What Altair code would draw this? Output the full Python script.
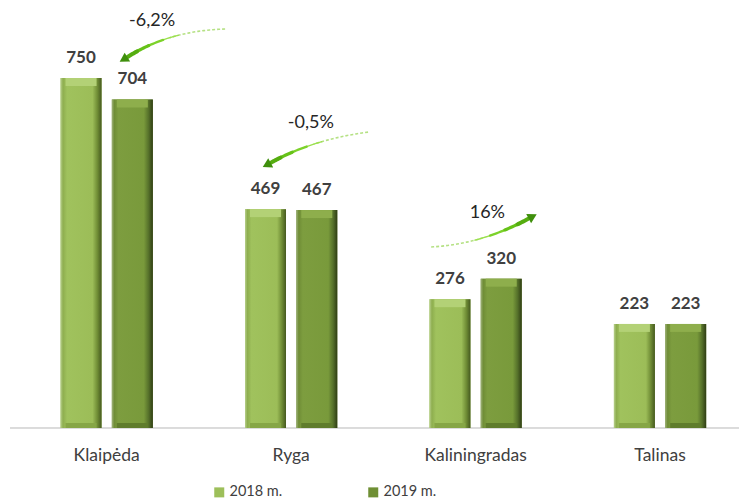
import math
import altair as alt
import pandas as pd

# ---- data ----
categories = ["Klaipėda", "Ryga", "Kaliningradas", "Talinas"]
v2018 = [750, 469, 276, 223]
v2019 = [704, 467, 320, 223]
series = ["2018 m.", "2019 m."]

# change annotations (label, label position, arrow tail / control / head), in data units
ann_labels = ["-6,2%", "-0,5%", "16%"]
ann_text_x = [0.246, 1.107, 2.064]
ann_text_y = [872, 654, 461]
arrow_p0 = [(0.642, 855), (1.417, 634), (1.759, 388)]
arrow_p1 = [(0.305, 851), (1.086, 617), (2.059, 394)]
arrow_p2 = [(0.064, 782), (0.840, 557), (2.342, 461)]

# ---- layout constants ----
W, H = 731, 420
XD = (-0.508, 3.401)
YD = (0, 900)
PX_X = W / (XD[1] - XD[0])
PX_Y = H / (YD[1] - YD[0])
OFF = 0.139
FONT = "Lato"

rows = []
for i, c in enumerate(categories):
    for s, vals, off in ((series[0], v2018, -OFF), (series[1], v2019, OFF)):
        rows.append({"idx": i, "cat": c, "series": s, "value": vals[i], "zero": 0,
                     "xpos": i + off, "label": str(vals[i])})
bars = pd.DataFrame(rows)
cats = pd.DataFrame({"idx": list(range(len(categories))), "cat": categories,
                     "zero": [0] * len(categories)})

xs = alt.Scale(domain=list(XD), nice=False, zero=False)
ys = alt.Scale(domain=list(YD), nice=False)
X = alt.X("xpos:Q", scale=xs, axis=None)
Y = alt.Y("value:Q", scale=ys, axis=None)

base_bar = alt.Chart(bars).mark_bar(size=41).encode(
    x=X, y=Y,
    color=alt.Color("series:N", scale=alt.Scale(domain=series, range=["#9dbf5a", "#6f8f34"]),
                    legend=alt.Legend(title=None, orient="none", legendX=204, legendY=477,
                                      direction="horizontal", symbolType="square",
                                      symbolSize=100, labelFontSize=14.5, labelFont=FONT,
                                      labelColor="#404040", columnPadding=83,
                                      labelOffset=3)),
)

grad = {
    series[0]: [("#b7cf8c", 0), ("#8eae4f", 0.06), ("#a0c25d", 0.16), ("#9cbd58", 0.78),
                ("#6f8c35", 0.9), ("#45591f", 1)],
    series[1]: [("#9fb27a", 0), ("#6f8d36", 0.06), ("#7d9d3f", 0.16), ("#799a3b", 0.78),
                ("#55702a", 0.9), ("#2f3d14", 1)],
}
top_col = {series[0]: "#b3d176", series[1]: "#8eae4c"}
bot_col = {series[0]: "#86a646", series[1]: "#5f7c2c"}

# baseline (axis line)
layers = [alt.Chart(cats).mark_rule(color="#d9d9d9", strokeWidth=1).encode(
    x=alt.value(2), x2=alt.value(W), y=alt.Y("zero:Q", scale=ys, axis=None))]

layers.append(base_bar)
for s in series:
    g = {"gradient": "linear", "x1": 0, "x2": 1, "y1": 0, "y2": 0,
         "stops": [{"offset": o, "color": c} for c, o in grad[s]]}
    sub = alt.Chart(bars).transform_filter(alt.datum.series == s)
    layers.append(sub.mark_bar(size=41, color=g).encode(x=X, y=Y))
    layers.append(sub.mark_bar(size=31, color=top_col[s], y2Offset=8).encode(
        x=X, y=Y, y2=alt.Y2("value:Q")))
    layers.append(sub.mark_bar(size=31, color=bot_col[s], y2Offset=-5).encode(
        x=X, y=alt.Y("zero:Q", scale=ys, axis=None), y2=alt.Y2("zero:Q")))

layers.append(alt.Chart(bars).mark_text(dy=-15, baseline="alphabetic", fontWeight="bold",
                                        fontSize=17, font=FONT, color="#404040").encode(
    x=X, y=Y, text="label:N"))

layers.append(alt.Chart(cats).mark_text(baseline="alphabetic", fontSize=17.5, font=FONT,
                                        color="#404040").encode(
    x=alt.X("idx:Q", scale=xs, axis=None), y=alt.value(453), text="cat:N"))

# arrows
dash_rows, solid_rows, head_rows = [], [], []
for k in range(len(ann_labels)):
    p0, p1, p2 = arrow_p0[k], arrow_p1[k], arrow_p2[k]
    def bez(t):
        return ((1 - t) ** 2 * p0[0] + 2 * (1 - t) * t * p1[0] + t * t * p2[0],
                (1 - t) ** 2 * p0[1] + 2 * (1 - t) * t * p1[1] + t * t * p2[1])
    n = 40
    for j in range(n + 1):
        t = j / n
        x, y = bez(t)
        if t <= 0.48:
            dash_rows.append({"a": k, "o": j, "xpos": x, "value": y})
    segs = [(0.40, 0.56, 1.4, "#9be04e"), (0.54, 0.70, 2.3, "#7cd22a"),
            (0.68, 0.82, 3.2, "#66c218"), (0.80, 0.9, 4.0, "#55ad10")]
    for si, (ta, tb, w, c) in enumerate(segs):
        m = 8
        for j in range(m + 1):
            t = ta + (tb - ta) * j / m
            x, y = bez(t)
            solid_rows.append({"seg": f"{k}-{si}", "o": j, "xpos": x, "value": y,
                               "w": w, "c": c})
    hx, hy = bez(0.93)
    tx, ty = bez(0.85)
    dx = (hx - tx) * PX_X
    dy = -(hy - ty) * PX_Y
    ang = math.degrees(math.atan2(dx, -dy)) % 360
    head_rows.append({"a": k, "xpos": hx, "value": hy, "ang": ang})

layers.append(alt.Chart(pd.DataFrame(dash_rows)).mark_line(
    strokeDash=[3, 2], strokeWidth=1.6, color="#b5e184").encode(
    x=X, y=Y, detail="a:N", order="o:Q"))
layers.append(alt.Chart(pd.DataFrame(solid_rows)).mark_line(strokeCap="round").encode(
    x=X, y=Y, detail="seg:N", order="o:Q",
    strokeWidth=alt.StrokeWidth("w:Q", scale=None),
    color=alt.Color("c:N", scale=None)))
layers.append(alt.Chart(pd.DataFrame(head_rows)).mark_point(
    shape="triangle", filled=True, size=110, color="#3f8f0c", opacity=1).encode(
    x=X, y=Y, angle=alt.Angle("ang:Q", scale=None)))

ann = pd.DataFrame({"xpos": ann_text_x, "value": ann_text_y, "t": ann_labels})
layers.append(alt.Chart(ann).mark_text(fontSize=18, font=FONT, color="#262626",
                                       baseline="middle").encode(x=X, y=Y, text="t:N"))

chart = alt.layer(*layers).properties(
    width=W, height=H, autosize=alt.AutoSizeParams(type="none"),
    padding={"left": 0, "top": 0, "right": 0, "bottom": 70},
).configure_view(stroke=None)

chart.save("out.html", embed_options={"renderer": "svg", "actions": False})
